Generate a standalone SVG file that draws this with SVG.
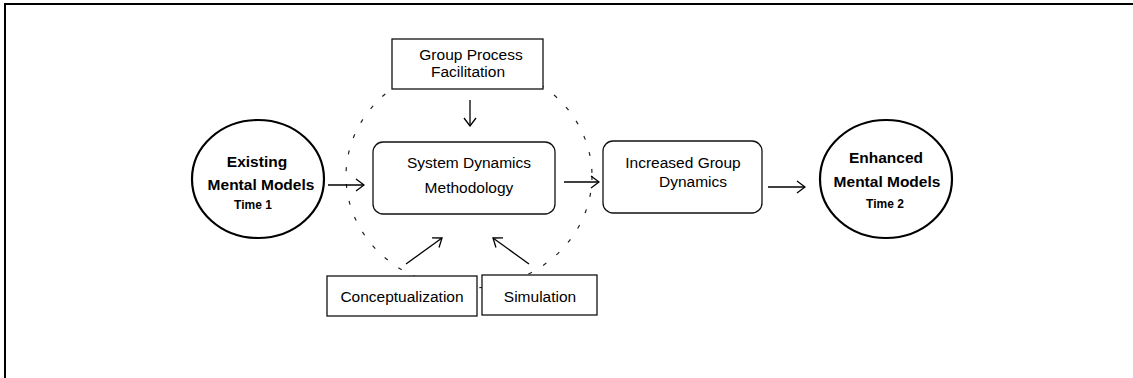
<svg xmlns="http://www.w3.org/2000/svg" width="1133" height="378" viewBox="0 0 1133 378">
<defs>
<marker id="arr" markerUnits="userSpaceOnUse" markerWidth="10" markerHeight="14" viewBox="0 0 10 14" refX="9" refY="7" orient="auto">
<path d="M1,1 L9,7 L1,13" fill="none" stroke="#000" stroke-width="1.3"/>
</marker>
<style>
.t{font-family:"Liberation Sans",Arial,sans-serif;font-size:15.5px;fill:#000;text-anchor:middle}
.b{font-family:"Liberation Sans",Arial,sans-serif;font-weight:bold;font-size:15.5px;fill:#000;text-anchor:middle}
.s{font-family:"Liberation Sans",Arial,sans-serif;font-weight:bold;font-size:12px;fill:#000;text-anchor:middle}
.box{fill:#fff;stroke:#111;stroke-width:1.3}
.ell{fill:#fff;stroke:#000;stroke-width:2.2}
.con{fill:none;stroke:#000;stroke-width:1.3;marker-end:url(#arr)}
</style>
</defs>
<rect width="1133" height="378" fill="#fff"/>
<path d="M5,378 V4 H1133" fill="none" stroke="#000" stroke-width="2"/>
<g id="loop">
<ellipse cx="469" cy="176" rx="123" ry="112" fill="none" stroke="#222" stroke-width="1.2" stroke-dasharray="4 13"/>
</g>
<g id="connectors">
<path class="con" d="M328,185 H364"/>
<path class="con" d="M564,182 H599"/>
<path class="con" d="M768,187 H805"/>
<path class="con" d="M470,100 V126"/>
<path class="con" d="M406,264 L442,238"/>
<path class="con" d="M529,264 L493,238"/>
</g>
<g id="existing">
<ellipse class="ell" cx="258" cy="179" rx="66" ry="59"/>
<text class="b" x="257" y="167">Existing</text>
<text class="b" x="261" y="190">Mental Models</text>
<text class="s" x="253" y="209">Time 1</text>
</g>
<g id="gpf">
<rect class="box" x="392" y="39" width="151" height="50"/>
<text class="t" x="471" y="60">Group Process</text>
<text class="t" x="468" y="77">Facilitation</text>
</g>
<g id="sdm">
<rect class="box" x="373" y="142" width="182" height="72" rx="10"/>
<text class="t" x="469" y="168">System Dynamics</text>
<text class="t" x="469" y="193">Methodology</text>
</g>
<g id="igd">
<rect class="box" x="603" y="141" width="159" height="72" rx="10"/>
<text class="t" x="683" y="168">Increased Group</text>
<text class="t" x="693" y="187">Dynamics</text>
</g>
<g id="enhanced">
<ellipse class="ell" cx="886" cy="179" rx="66" ry="59"/>
<text class="b" x="886" y="163">Enhanced</text>
<text class="b" x="887" y="187">Mental Models</text>
<text class="s" x="885" y="208">Time 2</text>
</g>
<g id="concept">
<rect class="box" x="327" y="276" width="150" height="40"/>
<text class="t" x="402" y="302">Conceptualization</text>
</g>
<g id="simulation">
<rect class="box" x="482" y="275" width="115" height="40"/>
<text class="t" x="540" y="302">Simulation</text>
</g>
</svg>
